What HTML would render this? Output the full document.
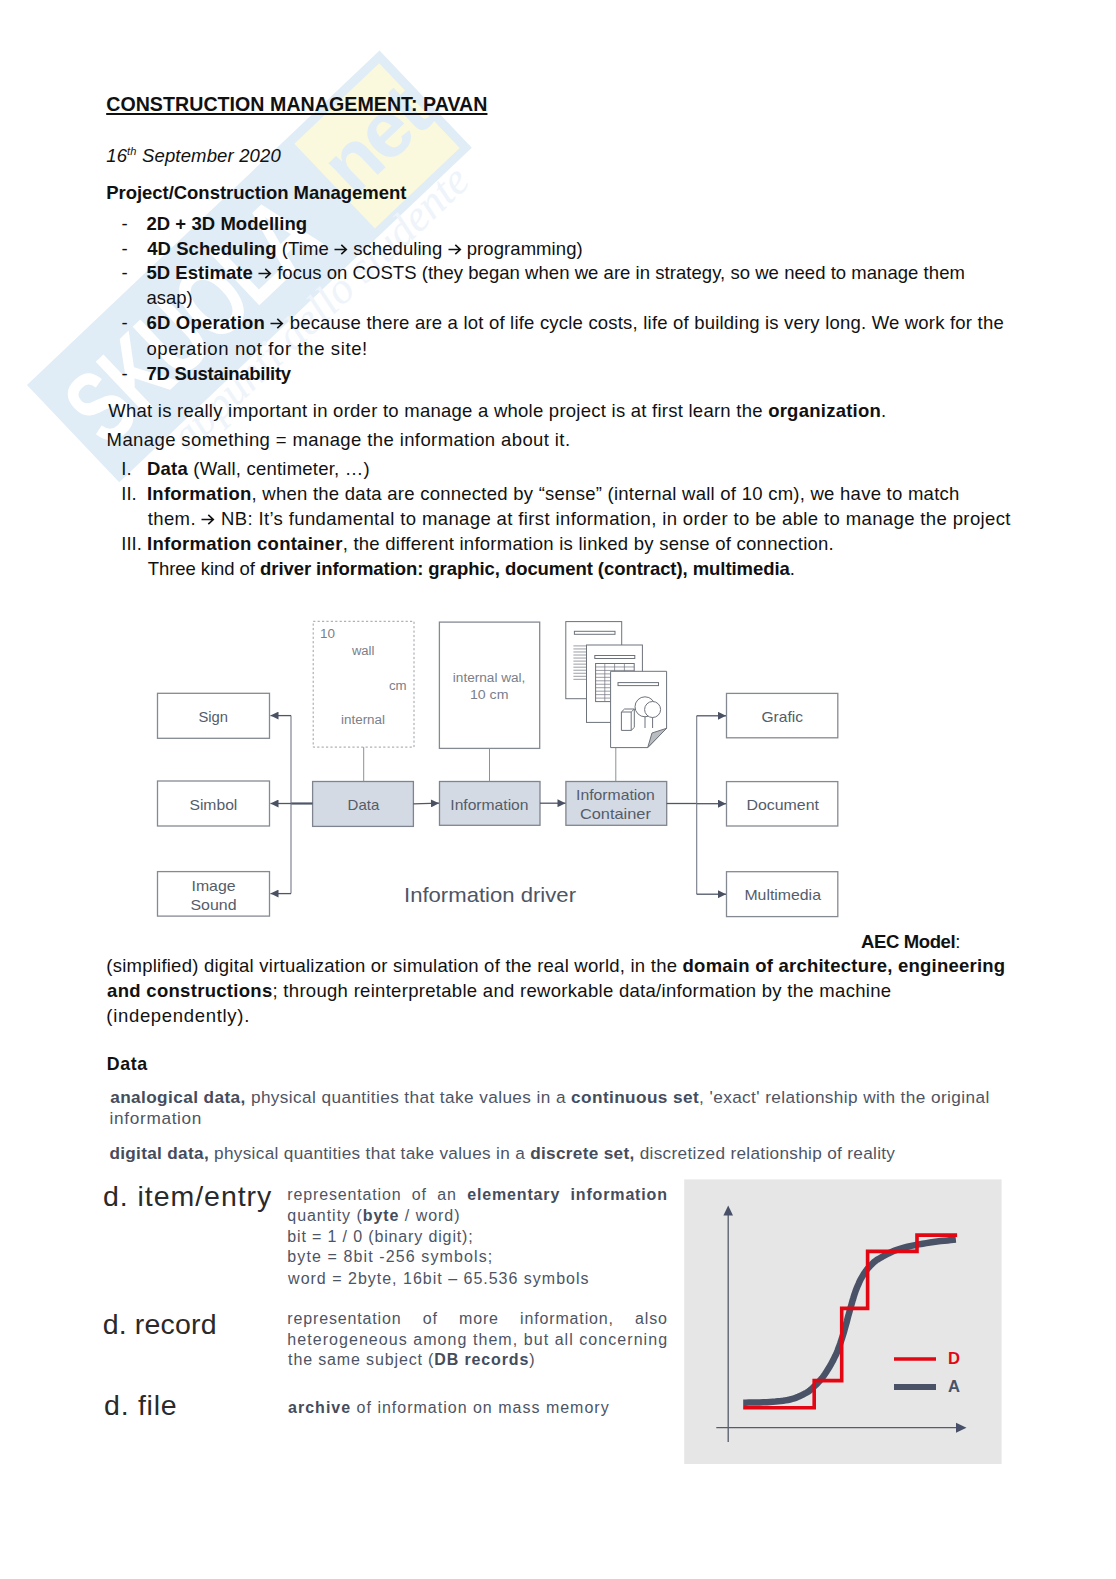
<!DOCTYPE html>
<html><head><meta charset="utf-8">
<style>
html,body{margin:0;padding:0;background:#fff;}
body{width:1116px;height:1579px;position:relative;overflow:hidden;font-family:"Liberation Sans",sans-serif;}
.ln{position:absolute;white-space:nowrap;line-height:1;}
.c{color:#111;}
.h{color:#4d5464;}
.h b{color:#454c5b;}
.d{color:#2a2a2a;}
u{text-decoration-thickness:1.5px;text-underline-offset:2px;}
sup{font-size:60%;vertical-align:0;position:relative;top:-0.55em;}
.bl{display:inline-block;width:0;height:0;}
#wm{position:absolute;left:27px;top:385px;width:490px;height:134px;transform-origin:0 0;transform:rotate(-43.5deg);}
#wm .bb{position:absolute;left:0;top:0;width:486px;height:134px;background:#e0ecf6;}
#wm .yy{position:absolute;left:360px;top:9px;width:117px;height:117px;background:#fbf9dd;}
#wm .sk{position:absolute;left:14px;top:14px;font:bold 104px/1 "Liberation Sans",sans-serif;color:#fff;letter-spacing:-2px;transform-origin:0 0;transform:scaleX(0.7);}
#wm .nt{position:absolute;left:366px;top:22px;font:bold 80px/1 "Liberation Sans",sans-serif;color:#e0ecf6;letter-spacing:-3px;}
#wm .ap{position:absolute;left:70px;top:124px;font:italic 44px/1 "Liberation Serif",serif;color:#eef4fa;white-space:nowrap;}
svg.full{position:absolute;left:0;top:0;}
.arr{display:inline-block;vertical-align:0;position:relative;top:0px;}
</style></head><body>
<div id="wm"><div class="bb"></div><div class="yy"></div><div class="sk">SKUOLA</div><div class="nt">net</div><div class="ap">appunti dello studente</div></div>
<svg class="full" width="1116" height="1579" viewBox="0 0 1116 1579">
<defs>
<marker id="ar" viewBox="0 0 10 10" refX="10" refY="5" markerWidth="9" markerHeight="8" markerUnits="userSpaceOnUse" orient="auto"><path d="M0,0 L10,5 L0,10 z" fill="#4a5162"/></marker>
</defs>
<g fill="none" stroke="#858a92" stroke-width="1.3">
<rect x="157.5" y="693.3" width="112" height="45"/>
<rect x="157.5" y="781" width="112" height="45"/>
<rect x="157.5" y="871.6" width="112" height="44.5"/>
<rect x="726.5" y="693.4" width="111.3" height="44.4"/>
<rect x="726.5" y="781.6" width="111.3" height="44.4"/>
<rect x="726.5" y="871.7" width="111.3" height="44.9"/>
<rect x="439.4" y="622.1" width="100.3" height="126.3"/>
<rect x="313.2" y="621.3" width="100.8" height="125.8" stroke-dasharray="2.2,2.2" stroke="#9a9ea5" stroke-width="1"/>
</g>
<g fill="#d4dae3" stroke="#7f858e" stroke-width="1.3">
<rect x="312.6" y="781.5" width="100.8" height="44.9"/>
<rect x="439.5" y="781.5" width="100.5" height="43.8"/>
<rect x="565.9" y="781.5" width="100.8" height="43.8"/>
</g>
<g stroke="#8d9198" stroke-width="1" fill="none">
<line x1="363.7" y1="747.1" x2="363.7" y2="781.5"/>
<line x1="489.5" y1="748.4" x2="489.5" y2="781.5"/>
<line x1="615.8" y1="747.6" x2="615.8" y2="781.5"/>
</g>
<g stroke="#4f5667" stroke-width="1.3" fill="none">
<line x1="312.6" y1="803.5" x2="291" y2="803.5" stroke-width="2.2"/>
<polyline points="291,715.6 291,893.6" stroke="#747a85" stroke-width="1.1"/>
<line x1="291" y1="715.6" x2="270.5" y2="715.6" marker-end="url(#ar)"/>
<line x1="291" y1="803.5" x2="270.5" y2="803.5" marker-end="url(#ar)"/>
<line x1="291" y1="893.6" x2="270.5" y2="893.6" marker-end="url(#ar)"/>
<line x1="413.4" y1="803.8" x2="439" y2="803.2" marker-end="url(#ar)"/>
<line x1="540" y1="803.2" x2="565.5" y2="803.2" marker-end="url(#ar)"/>
<line x1="666.7" y1="803.5" x2="696.7" y2="803.5"/>
<polyline points="696.7,715.8 696.7,894.2" stroke="#747a85" stroke-width="1.1"/>
<line x1="696.7" y1="715.8" x2="726" y2="715.8" marker-end="url(#ar)"/>
<line x1="696.7" y1="803.7" x2="726" y2="803.7" marker-end="url(#ar)"/>
<line x1="696.7" y1="894.2" x2="726" y2="894.2" marker-end="url(#ar)"/>
</g>
<!-- document icons -->
<g stroke="#6d727b" stroke-width="1" fill="#fff">
<rect x="565.8" y="621.6" width="55.9" height="77.1"/>
<rect x="574.4" y="631.3" width="40.6" height="3" fill="#fff"/>
<g stroke="#6f747c" stroke-width="0.7"><line x1="573.4" y1="645.90" x2="586.5" y2="645.90"/><line x1="573.4" y1="648.94" x2="586.5" y2="648.94"/><line x1="573.4" y1="651.98" x2="586.5" y2="651.98"/><line x1="573.4" y1="655.02" x2="586.5" y2="655.02"/><line x1="573.4" y1="658.06" x2="586.5" y2="658.06"/><line x1="573.4" y1="661.10" x2="586.5" y2="661.10"/><line x1="573.4" y1="664.14" x2="586.5" y2="664.14"/><line x1="573.4" y1="667.18" x2="586.5" y2="667.18"/><line x1="573.4" y1="670.22" x2="586.5" y2="670.22"/><line x1="573.4" y1="673.26" x2="586.5" y2="673.26"/><line x1="573.4" y1="676.30" x2="586.5" y2="676.30"/><line x1="573.4" y1="679.34" x2="586.5" y2="679.34"/></g>
<rect x="586.5" y="645" width="55.9" height="77.4"/>
<rect x="594.8" y="655.5" width="40" height="3"/>
<rect x="595.6" y="663.5" width="38.6" height="38.1"/>
<g stroke="#6f747c" stroke-width="0.7"><line x1="604.8" y1="663.5" x2="604.8" y2="701.6"/><line x1="614.6" y1="663.5" x2="614.6" y2="701.6"/><line x1="624.4" y1="663.5" x2="624.4" y2="701.6"/><line x1="595.6" y1="666.96" x2="634.2" y2="666.96"/><line x1="595.6" y1="670.42" x2="634.2" y2="670.42"/><line x1="595.6" y1="673.88" x2="634.2" y2="673.88"/><line x1="595.6" y1="677.34" x2="634.2" y2="677.34"/><line x1="595.6" y1="680.80" x2="634.2" y2="680.80"/><line x1="595.6" y1="684.26" x2="634.2" y2="684.26"/><line x1="595.6" y1="687.72" x2="634.2" y2="687.72"/><line x1="595.6" y1="691.18" x2="634.2" y2="691.18"/><line x1="595.6" y1="694.64" x2="634.2" y2="694.64"/><line x1="595.6" y1="698.10" x2="634.2" y2="698.10"/></g>
<path d="M610.6,671.3 H666.6 V728.3 L647.7,747.6 H610.6 Z"/>
<path d="M647.7,747.6 L652,733 L666.6,728.3 Z" fill="#b9bcc1"/>
<rect x="618" y="682.6" width="40.5" height="3"/>
<circle cx="645" cy="706.8" r="10"/>
<circle cx="652.6" cy="709.5" r="8"/>
<line x1="645" y1="716.8" x2="645" y2="728"/><line x1="652.6" y1="717.5" x2="652.6" y2="728"/>
<path d="M621.4,712 L624.5,709 H634.3 V727.4 L631.2,730.4 H621.4 Z"/>
<path d="M621.4,712 H631.2 V730.4 M631.2,712 L634.3,709" fill="none"/>
</g>
<g font-family="Liberation Sans, sans-serif" fill="#555c6a" text-anchor="middle">
<text fill="#7a808b" x="327.5" y="638.2" font-size="12" textLength="15" lengthAdjust="spacingAndGlyphs">10</text>
<text fill="#7a808b" x="363.2" y="655" font-size="12.5" textLength="22.5" lengthAdjust="spacingAndGlyphs">wall</text>
<text fill="#7a808b" x="397.8" y="690" font-size="12.5" textLength="17.7" lengthAdjust="spacingAndGlyphs">cm</text>
<text fill="#7a808b" x="363" y="724" font-size="12.5" textLength="44" lengthAdjust="spacingAndGlyphs">internal</text>
<text fill="#7a808b" x="489.1" y="682" font-size="12.5" textLength="72.6" lengthAdjust="spacingAndGlyphs">internal wal,</text>
<text fill="#7a808b" x="489.2" y="698.7" font-size="12.5" textLength="38.5" lengthAdjust="spacingAndGlyphs">10 cm</text>
<text x="213.2" y="722.4" font-size="14.5" textLength="29.6" lengthAdjust="spacingAndGlyphs">Sign</text>
<text x="213.4" y="810" font-size="14.5" textLength="47.9" lengthAdjust="spacingAndGlyphs">Simbol</text>
<text x="213.5" y="891" font-size="14.5" textLength="44" lengthAdjust="spacingAndGlyphs">Image</text>
<text x="213.5" y="909.7" font-size="14.5" textLength="46" lengthAdjust="spacingAndGlyphs">Sound</text>
<text x="363.4" y="810" font-size="14.5" textLength="31.7" lengthAdjust="spacingAndGlyphs">Data</text>
<text x="489.4" y="810" font-size="14.5" textLength="78.2" lengthAdjust="spacingAndGlyphs">Information</text>
<text x="615.4" y="800.3" font-size="14.5" textLength="78.8" lengthAdjust="spacingAndGlyphs">Information</text>
<text x="615.4" y="818.6" font-size="14.5" textLength="71" lengthAdjust="spacingAndGlyphs">Container</text>
<text x="782.2" y="722.2" font-size="14.5" textLength="41.5" lengthAdjust="spacingAndGlyphs">Grafic</text>
<text x="782.7" y="810.4" font-size="14.5" textLength="72.6" lengthAdjust="spacingAndGlyphs">Document</text>
<text x="782.7" y="900.4" font-size="14.5" textLength="76.5" lengthAdjust="spacingAndGlyphs">Multimedia</text>
<text x="490" y="901.7" font-size="21" textLength="172" lengthAdjust="spacingAndGlyphs" fill="#4d5566">Information driver</text>
</g>
<!-- chart -->
<rect x="684.2" y="1179.4" width="317.4" height="284.6" fill="#e6e6e6"/>
<g stroke="#555c6a" stroke-width="1.3" fill="none">
<line x1="728.2" y1="1442" x2="728.2" y2="1214"/>
<line x1="716.3" y1="1427.7" x2="957" y2="1427.7"/>
</g>
<path d="M728.2,1205.5 L733,1215.5 L723.4,1215.5 Z" fill="#475068"/>
<path d="M966.5,1427.7 L956,1422.7 L956,1432.7 Z" fill="#475068"/>
<path id="sig" d="M743.2,1402.7 L745.7,1402.7 L748.8,1402.6 L752.2,1402.6 L755.9,1402.5 L759.6,1402.4 L763.3,1402.3 L766.8,1402.2 L770.0,1402.0 L772.9,1401.8 L775.6,1401.6 L778.2,1401.3 L780.7,1401.1 L783.2,1400.8 L785.5,1400.4 L787.8,1400.0 L790.0,1399.5 L792.2,1398.9 L794.2,1398.3 L796.2,1397.6 L798.2,1396.8 L800.0,1396.0 L801.8,1395.2 L803.4,1394.3 L805.0,1393.5 L806.4,1392.7 L807.7,1391.9 L808.8,1391.2 L809.9,1390.4 L810.9,1389.6 L811.9,1388.7 L813.0,1387.6 L814.2,1386.5 L815.5,1385.2 L816.8,1383.9 L818.1,1382.5 L819.5,1381.0 L820.9,1379.4 L822.3,1377.7 L823.7,1375.9 L825.0,1374.0 L826.3,1372.0 L827.7,1369.8 L829.1,1367.6 L830.5,1365.2 L831.8,1362.8 L833.1,1360.4 L834.3,1357.9 L835.5,1355.5 L836.6,1353.1 L837.6,1350.7 L838.5,1348.2 L839.4,1345.8 L840.3,1343.3 L841.2,1340.6 L842.1,1337.9 L843.0,1335.0 L844.0,1331.9 L844.9,1328.5 L845.9,1324.9 L846.9,1321.3 L847.8,1317.7 L848.8,1314.2 L849.7,1310.9 L850.5,1307.9 L851.3,1305.2 L852.0,1302.7 L852.6,1300.4 L853.3,1298.2 L853.9,1296.1 L854.6,1294.0 L855.3,1292.0 L856.0,1290.0 L856.8,1288.0 L857.6,1286.0 L858.5,1284.1 L859.3,1282.2 L860.2,1280.3 L861.1,1278.6 L862.1,1276.9 L863.0,1275.3 L863.9,1273.8 L864.9,1272.3 L865.9,1271.0 L866.8,1269.7 L867.8,1268.4 L868.9,1267.3 L869.9,1266.1 L871.0,1265.0 L872.1,1264.0 L873.0,1263.0 L874.0,1262.1 L875.0,1261.3 L876.2,1260.4 L877.4,1259.6 L878.9,1258.7 L880.6,1257.7 L882.5,1256.6 L884.7,1255.5 L887.0,1254.2 L889.4,1253.0 L892.0,1251.8 L894.8,1250.6 L897.7,1249.5 L900.7,1248.5 L903.9,1247.6 L907.5,1246.7 L911.2,1245.9 L915.0,1245.1 L918.9,1244.4 L922.7,1243.7 L926.4,1243.1 L930.0,1242.5 L933.5,1242.0 L937.1,1241.5 L940.7,1241.1 L944.2,1240.7 L947.6,1240.4 L950.7,1240.1 L953.5,1239.8 L955.9,1239.6" stroke="#495266" stroke-width="6.5" fill="none" stroke-linecap="butt"/>
<polyline points="743.2,1407.7 814.2,1407.7 814.2,1380.6 841.7,1380.6 841.7,1308.4 867.6,1308.4 867.6,1251.4 917,1251.4 917,1235.1 957.1,1235.1" stroke="#e30613" stroke-width="3.6" fill="none"/>
<line x1="894" y1="1359" x2="936" y2="1359" stroke="#e30613" stroke-width="3.6"/>
<line x1="894" y1="1387" x2="936" y2="1387" stroke="#495266" stroke-width="6"/>
<text x="948" y="1364" font-family="Liberation Sans, sans-serif" font-weight="bold" font-size="17" fill="#e30613" textLength="12" lengthAdjust="spacingAndGlyphs">D</text>
<text x="948" y="1392" font-family="Liberation Sans, sans-serif" font-weight="bold" font-size="17" fill="#4a5266" textLength="12" lengthAdjust="spacingAndGlyphs">A</text>

</svg>
<div class="ln c" id="t0" style="left:106.20px;top:95.01px;font-size:19.60px;letter-spacing:0.046px;"><span class="in"><b><u>CONSTRUCTION MANAGEMENT: PAVAN</u></b></span></div>
<div class="ln c" id="t1" style="left:106.20px;top:146.51px;font-size:18.50px;letter-spacing:0.157px;"><span class="in"><i>16<sup>th</sup> September 2020</i></span></div>
<div class="ln c" id="t2" style="left:106.20px;top:183.51px;font-size:18.50px;letter-spacing:-0.034px;"><span class="in"><b>Project/Construction Management</b></span></div>
<div class="ln c" id="t3" style="left:121.50px;top:214.71px;font-size:18.50px;"><span class="in">-</span></div>
<div class="ln c" id="t4" style="left:146.42px;top:214.71px;font-size:18.50px;letter-spacing:0.057px;"><span class="in"><b>2D + 3D Modelling</b></span></div>
<div class="ln c" id="t5" style="left:121.50px;top:239.51px;font-size:18.50px;"><span class="in">-</span></div>
<div class="ln c" id="t6" style="left:147.22px;top:239.51px;font-size:18.50px;letter-spacing:0.069px;"><span class="in"><b>4D Scheduling</b> (Time <svg class="arr" width="14" height="11" viewBox="0 0 14 11"><path d="M0.5,5.5 H12.3 M7.3,0.8 L12.3,5.5 L7.3,10.2" stroke="#111" stroke-width="1.6" fill="none"/></svg> scheduling <svg class="arr" width="14" height="11" viewBox="0 0 14 11"><path d="M0.5,5.5 H12.3 M7.3,0.8 L12.3,5.5 L7.3,10.2" stroke="#111" stroke-width="1.6" fill="none"/></svg> programming)</span></div>
<div class="ln c" id="t7" style="left:121.50px;top:264.21px;font-size:18.50px;"><span class="in">-</span></div>
<div class="ln c" id="t8" style="left:146.42px;top:264.21px;font-size:18.50px;letter-spacing:0.042px;"><span class="in"><b>5D Estimate</b> <svg class="arr" width="14" height="11" viewBox="0 0 14 11"><path d="M0.5,5.5 H12.3 M7.3,0.8 L12.3,5.5 L7.3,10.2" stroke="#111" stroke-width="1.6" fill="none"/></svg> focus on COSTS (they began when we are in strategy, so we need to manage them</span></div>
<div class="ln c" id="t9" style="left:146.42px;top:288.91px;font-size:18.50px;letter-spacing:-0.022px;"><span class="in">asap)</span></div>
<div class="ln c" id="t10" style="left:121.50px;top:314.31px;font-size:18.50px;"><span class="in">-</span></div>
<div class="ln c" id="t11" style="left:146.42px;top:314.31px;font-size:18.50px;letter-spacing:0.202px;"><span class="in"><b>6D Operation</b> <svg class="arr" width="14" height="11" viewBox="0 0 14 11"><path d="M0.5,5.5 H12.3 M7.3,0.8 L12.3,5.5 L7.3,10.2" stroke="#111" stroke-width="1.6" fill="none"/></svg> because there are a lot of life cycle costs, life of building is very long. We work for the</span></div>
<div class="ln c" id="t12" style="left:146.42px;top:339.91px;font-size:18.50px;letter-spacing:0.623px;"><span class="in">operation not for the site!</span></div>
<div class="ln c" id="t13" style="left:121.50px;top:364.60px;font-size:18.50px;"><span class="in">-</span></div>
<div class="ln c" id="t14" style="left:146.42px;top:364.60px;font-size:18.50px;letter-spacing:-0.272px;"><span class="in"><b>7D Sustainability</b></span></div>
<div class="ln c" id="t15" style="left:108.22px;top:402.01px;font-size:18.50px;letter-spacing:0.248px;"><span class="in">What is really important in order to manage a whole project is at first learn the <b>organization</b>.</span></div>
<div class="ln c" id="t16" style="left:106.62px;top:430.51px;font-size:18.50px;letter-spacing:0.393px;"><span class="in">Manage something = manage the information about it.</span></div>
<div class="ln c" id="t17" style="left:121.30px;top:459.60px;font-size:18.50px;"><span class="in">I.</span></div>
<div class="ln c" id="t18" style="left:146.96px;top:459.60px;font-size:18.50px;letter-spacing:0.214px;"><span class="in"><b>Data</b> (Wall, centimeter, &#8230;)</span></div>
<div class="ln c" id="t19" style="left:121.30px;top:484.71px;font-size:18.50px;"><span class="in">II.</span></div>
<div class="ln c" id="t20" style="left:146.96px;top:484.71px;font-size:18.50px;letter-spacing:0.255px;"><span class="in"><b>Information</b>, when the data are connected by &#8220;sense&#8221; (internal wall of 10 cm), we have to match</span></div>
<div class="ln c" id="t21" style="left:147.76px;top:509.71px;font-size:18.50px;letter-spacing:0.377px;"><span class="in">them. <svg class="arr" width="14" height="11" viewBox="0 0 14 11"><path d="M0.5,5.5 H12.3 M7.3,0.8 L12.3,5.5 L7.3,10.2" stroke="#111" stroke-width="1.6" fill="none"/></svg> NB: It&#8217;s fundamental to manage at first information, in order to be able to manage the project</span></div>
<div class="ln c" id="t22" style="left:121.30px;top:534.81px;font-size:18.50px;"><span class="in">III.</span></div>
<div class="ln c" id="t23" style="left:147.12px;top:534.81px;font-size:18.50px;letter-spacing:0.255px;"><span class="in"><b>Information container</b>, the different information is linked by sense of connection.</span></div>
<div class="ln c" id="t24" style="left:147.76px;top:559.60px;font-size:18.50px;letter-spacing:-0.062px;"><span class="in">Three kind of <b>driver information: graphic, document (contract), multimedia</b>.</span></div>
<div class="ln c" id="t25" style="left:861.10px;top:932.81px;font-size:18.50px;letter-spacing:-0.389px;"><span class="in"><b>AEC Model</b>:</span></div>
<div class="ln c" id="t26" style="left:106.30px;top:957.11px;font-size:18.50px;letter-spacing:0.236px;"><span class="in">(simplified) digital virtualization or simulation of the real world, in the <b>domain of architecture, engineering</b></span></div>
<div class="ln c" id="t27" style="left:107.10px;top:982.01px;font-size:18.50px;letter-spacing:0.297px;"><span class="in"><b>and constructions</b>; through reinterpretable and reworkable data/information by the machine</span></div>
<div class="ln c" id="t28" style="left:106.30px;top:1007.01px;font-size:18.50px;letter-spacing:0.687px;"><span class="in">(independently).</span></div>
<div class="ln c" id="t29" style="left:106.80px;top:1055.61px;font-size:17.80px;letter-spacing:0.576px;"><span class="in"><b>Data</b></span></div>
<div class="ln h" id="t30" style="left:110.18px;top:1088.71px;font-size:17.20px;letter-spacing:0.412px;"><span class="in"><b>analogical data,</b> physical quantities that take values in a <b>continuous set</b>, 'exact' relationship with the original</span></div>
<div class="ln h" id="t31" style="left:109.52px;top:1109.71px;font-size:17.20px;letter-spacing:0.686px;"><span class="in">information</span></div>
<div class="ln h" id="t32" style="left:109.38px;top:1144.71px;font-size:17.20px;letter-spacing:0.315px;"><span class="in"><b>digital data,</b> physical quantities that take values in a <b>discrete set,</b> discretized relationship of reality</span></div>
<div class="ln d" id="t33" style="left:102.96px;top:1182.00px;font-size:28.50px;letter-spacing:0.959px;"><span class="in">d. item/entry</span></div>
<div class="ln d" id="t34" style="left:102.64px;top:1310.00px;font-size:28.50px;letter-spacing:0.175px;"><span class="in">d. record</span></div>
<div class="ln d" id="t35" style="left:104.08px;top:1390.61px;font-size:28.50px;letter-spacing:0.734px;"><span class="in">d. file</span></div>
<div class="ln h" id="t36" style="left:287.30px;top:1186.81px;font-size:16.00px;letter-spacing:0.850px;word-spacing:5.075px;"><span class="in">representation of an <b>elementary information</b></span></div>
<div class="ln h" id="t37" style="left:287.30px;top:1207.71px;font-size:16.00px;letter-spacing:0.957px;"><span class="in">quantity (<b>byte</b> / word)</span></div>
<div class="ln h" id="t38" style="left:287.30px;top:1228.71px;font-size:16.00px;letter-spacing:0.855px;"><span class="in">bit = 1 / 0 (binary digit);</span></div>
<div class="ln h" id="t39" style="left:287.30px;top:1249.41px;font-size:16.00px;letter-spacing:1.110px;"><span class="in">byte = 8bit -256 symbols;</span></div>
<div class="ln h" id="t40" style="left:288.10px;top:1271.41px;font-size:16.00px;letter-spacing:0.998px;"><span class="in">word = 2byte, 16bit &#8211; 65.536 symbols</span></div>
<div class="ln h" id="t41" style="left:287.30px;top:1311.01px;font-size:16.00px;letter-spacing:0.850px;word-spacing:15.933px;"><span class="in">representation of more information, also</span></div>
<div class="ln h" id="t42" style="left:287.30px;top:1331.71px;font-size:16.00px;letter-spacing:1.054px;"><span class="in">heterogeneous among them, but all concerning</span></div>
<div class="ln h" id="t43" style="left:288.10px;top:1352.41px;font-size:16.00px;letter-spacing:0.860px;"><span class="in">the same subject (<b>DB records</b>)</span></div>
<div class="ln h" id="t44" style="left:288.10px;top:1400.31px;font-size:16.00px;letter-spacing:1.000px;"><span class="in"><b>archive</b> of information on mass memory</span></div>
</body></html>
